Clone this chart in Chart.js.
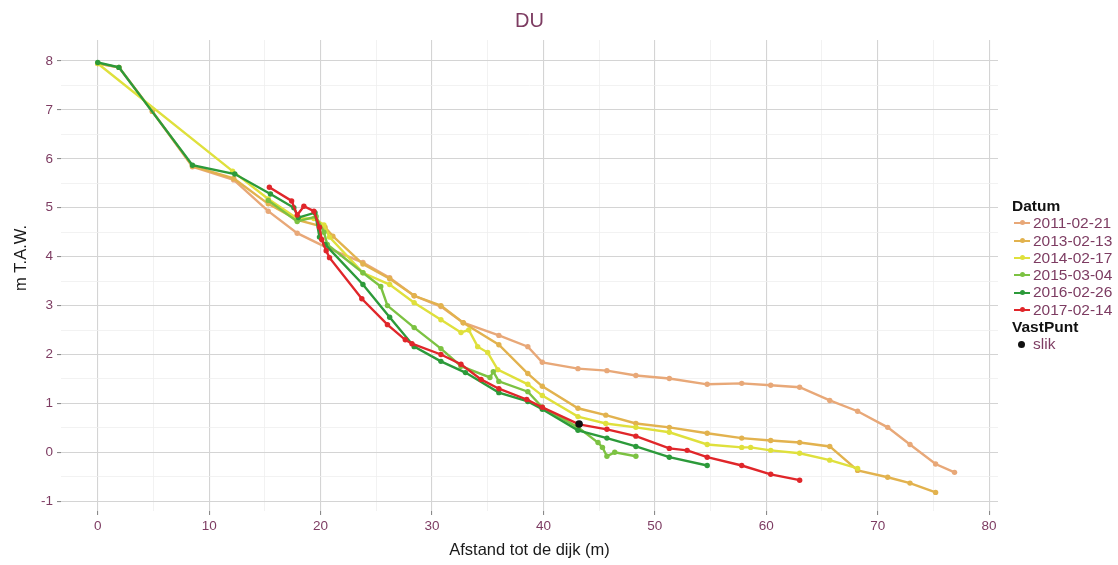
<!DOCTYPE html>
<html>
<head>
<meta charset="utf-8">
<title>DU</title>
<script src="https://cdn.jsdelivr.net/npm/chart.js@4.4.0/dist/chart.umd.min.js"></script>
<style>
  body { margin: 0; background: #fff; font-family: "Liberation Sans", Arial, sans-serif; }
  #wrap { position: relative; width: 1118px; height: 565px; }
  #legend { position: absolute; left: 1012px; top: 197px; font-size: 15.5px; line-height: 17.3px; }
  #legend .head { font-weight: bold; color: #111; }
  #legend .item { display: flex; align-items: center; color: #7d3c62; }
  #legend .key { position: relative; width: 18px; height: 17px; margin-right: 3px; }
  #legend .key i { position: absolute; left: 2px; right: 0; top: 8px; height: 2px; }
  #legend .key b { position: absolute; left: 8px; top: 6px; width: 5px; height: 5px; border-radius: 50%; }
</style>
</head>
<body>
<div id="wrap">
  <canvas id="profileChart" width="1118" height="565"></canvas>
  <div id="legend"></div>
</div>
<script>
const labels = ["2011-02-21", "2013-02-13", "2014-02-17", "2015-03-04", "2016-02-26", "2017-02-14"];
const colors = ["#e8a878", "#e2b24e", "#dfe03c", "#7cc242", "#2c9a3a", "#e0262a"];

// afstand (m) en hoogte (m T.A.W.) per opname
const x2011 = [0, 1.9, 4.9, 8.5, 12.2, 15.3, 17.9, 20.6, 23.8, 26.2, 28.4, 30.8, 32.8, 36.0, 38.6, 39.9, 43.1, 45.7, 48.3, 51.3, 54.7, 57.8, 60.4, 63.0, 65.7, 68.2, 70.9, 72.9, 75.2, 76.9];
const y2011 = [7.95, 7.87, 6.97, 5.84, 5.57, 4.93, 4.48, 4.18, 3.88, 3.57, 3.2, 2.98, 2.65, 2.39, 2.16, 1.84, 1.71, 1.67, 1.57, 1.51, 1.39, 1.41, 1.37, 1.33, 1.06, 0.84, 0.51, 0.16, -0.24, -0.41];

const x2013 = [0, 1.9, 4.9, 8.5, 12.2, 15.3, 17.9, 20.4, 21.1, 23.8, 26.2, 28.4, 30.8, 32.8, 36.0, 38.6, 39.9, 43.1, 45.6, 48.3, 51.3, 54.7, 57.8, 60.4, 63.0, 65.7, 68.2, 70.9, 72.9, 75.2];
const y2013 = [7.95, 7.87, 6.97, 5.85, 5.6, 5.08, 4.75, 4.6, 4.42, 3.85, 3.55, 3.2, 3.0, 2.65, 2.2, 1.61, 1.35, 0.9, 0.76, 0.59, 0.51, 0.39, 0.29, 0.24, 0.2, 0.12, -0.37, -0.51, -0.63, -0.82];

const x2014 = [0, 12.1, 15.3, 17.9, 19.4, 20.3, 20.8, 23.8, 26.2, 28.4, 30.8, 32.6, 33.3, 34.1, 35.0, 35.9, 38.6, 39.9, 43.1, 45.6, 48.3, 51.3, 54.7, 57.8, 58.6, 60.4, 63.0, 65.7, 68.2];
const y2014 = [7.95, 5.75, 5.18, 4.78, 4.78, 4.65, 4.4, 3.67, 3.43, 3.06, 2.71, 2.45, 2.5, 2.16, 2.04, 1.69, 1.39, 1.16, 0.73, 0.59, 0.51, 0.41, 0.16, 0.1, 0.1, 0.04, -0.02, -0.16, -0.33];

const x2015 = [15.3, 17.9, 19.6, 20.3, 20.6, 23.8, 25.4, 26.0, 28.4, 30.8, 32.6, 35.2, 35.5, 36.0, 38.6, 39.9, 43.1, 44.9, 45.3, 45.7, 46.4, 48.3];
const y2015 = [5.15, 4.72, 4.82, 4.5, 4.25, 3.67, 3.39, 3.0, 2.55, 2.12, 1.76, 1.53, 1.65, 1.45, 1.24, 0.92, 0.51, 0.2, 0.1, -0.08, 0.0, -0.08];

const x2016 = [0, 1.9, 8.5, 12.3, 15.5, 17.6, 18.0, 19.5, 19.9, 20.4, 23.8, 26.2, 28.4, 30.8, 33.0, 36.0, 38.6, 39.9, 43.1, 45.7, 48.3, 51.3, 54.7];
const y2016 = [7.97, 7.87, 5.87, 5.69, 5.28, 5.0, 4.8, 4.9, 4.4, 4.25, 3.43, 2.76, 2.16, 1.86, 1.63, 1.22, 1.04, 0.88, 0.45, 0.29, 0.12, -0.10, -0.27];

const x2017 = [15.4, 17.4, 17.9, 18.5, 19.4, 19.9, 20.1, 20.5, 20.8, 23.7, 26.0, 27.6, 28.2, 30.8, 32.6, 34.4, 36.0, 38.5, 39.9, 43.2, 45.7, 48.3, 51.3, 52.9, 54.7, 57.8, 60.4, 63.0];
const y2017 = [5.42, 5.14, 4.85, 5.03, 4.93, 4.6, 4.35, 4.12, 3.98, 3.14, 2.61, 2.3, 2.22, 2.0, 1.8, 1.49, 1.3, 1.08, 0.92, 0.57, 0.47, 0.33, 0.08, 0.04, -0.1, -0.27, -0.45, -0.57];

// vast punt (slik)
const xSlik = [43.2];
const ySlik = [0.58];

const xTicks = [0, 5, 10, 15, 20, 25, 30, 35, 40, 45, 50, 55, 60, 65, 70, 75, 80];
const yTicks = [-1, -0.5, 0, 0.5, 1, 1.5, 2, 2.5, 3, 3.5, 4, 4.5, 5, 5.5, 6, 6.5, 7, 7.5, 8];

const xs = [x2011, x2013, x2014, x2015, x2016, x2017];
const ys = [y2011, y2013, y2014, y2015, y2016, y2017];

const tickColor = "#7d3c62";
const fontFamily = '"Liberation Sans", Arial, sans-serif';
const toPoints = (xv, yv) => xv.map((x, i) => ({ x: x, y: yv[i] }));

const datasets = labels.map((label, i) => ({
  label: label,
  data: toPoints(xs[i], ys[i]),
  showLine: true,
  borderColor: colors[i],
  backgroundColor: colors[i],
  borderWidth: 2.4,
  pointRadius: 2.7,
  pointHoverRadius: 2.7,
  pointBorderWidth: 0,
  order: labels.length - i // latest survey drawn on top
}));

datasets.push({
  label: "slik",
  data: toPoints(xSlik, ySlik),
  showLine: false,
  backgroundColor: "#111",
  borderColor: "#111",
  pointRadius: 3.8,
  pointBorderWidth: 0,
  order: -1
});

// "DU" over the panel and the vertical axis title
const extraText = {
  id: "extraText",
  afterDraw(chart) {
    const { ctx, chartArea } = chart;
    ctx.save();
    ctx.font = "20px " + fontFamily;
    ctx.fillStyle = tickColor;
    ctx.textAlign = "center";
    ctx.textBaseline = "middle";
    ctx.fillText("DU", (chartArea.left + chartArea.right) / 2, 21);

    ctx.font = "16.5px " + fontFamily;
    ctx.fillStyle = "#1a1a1a";
    ctx.translate(21, 258);
    ctx.rotate(-Math.PI / 2);
    ctx.fillText("m T.A.W.", 0, 0);
    ctx.restore();
  }
};

const isMajorX = v => v % 10 === 0;
const isMajorY = v => Number.isInteger(v);

function buildLegend() {
  const box = document.getElementById("legend");
  let html = '<div class="head">Datum</div>';
  labels.forEach((label, i) => {
    html += `<div class="item"><span class="key"><i style="background:${colors[i]}"></i><b style="background:${colors[i]}"></b></span>${label}</div>`;
  });
  html += '<div class="head">VastPunt</div>';
  html += '<div class="item"><span class="key"><b style="background:#111;left:6px;top:5px;width:7px;height:7px"></b></span>slik</div>';
  box.innerHTML = html;
}

document.addEventListener("DOMContentLoaded", () => {
  buildLegend();
  const ctx = document.getElementById("profileChart").getContext("2d");
  new Chart(ctx, {
    type: "scatter",
    data: { datasets: datasets },
    plugins: [extraText],
    options: {
      responsive: false,
      animation: false,
      layout: { padding: { top: 40, right: 120, left: 0, bottom: 0 } },
      plugins: { legend: { display: false }, tooltip: { enabled: false } },
      scales: {
        x: {
          type: "linear",
          min: -3.3,
          max: 80.8,
          afterBuildTicks: s => { s.ticks = xTicks.map(v => ({ value: v })); },
          afterFit: s => { s.height = 54; },
          border: { display: false },
          grid: {
            color: c => (c.tick && isMajorX(c.tick.value) ? "#d4d4d4" : "#efefef"),
            lineWidth: c => (c.tick && isMajorX(c.tick.value) ? 1.1 : 0.8),
            tickLength: 4,
            tickColor: c => (c.tick && isMajorX(c.tick.value) ? "#8a8a8a" : "rgba(0,0,0,0)")
          },
          ticks: {
            autoSkip: false,
            maxRotation: 0,
            padding: 3,
            color: tickColor,
            font: { size: 13.5, family: fontFamily },
            callback: v => (isMajorX(v) ? String(v) : "")
          },
          title: {
            display: true,
            text: "Afstand tot de dijk (m)",
            color: "#1a1a1a",
            font: { size: 16.5, family: fontFamily },
            padding: { top: 0, bottom: 5 }
          }
        },
        y: {
          type: "linear",
          min: -1.2,
          max: 8.43,
          afterBuildTicks: s => { s.ticks = yTicks.map(v => ({ value: v })); },
          afterFit: s => { s.width = 61; },
          border: { display: false },
          grid: {
            color: c => (c.tick && isMajorY(c.tick.value) ? "#d4d4d4" : "#efefef"),
            lineWidth: c => (c.tick && isMajorY(c.tick.value) ? 1.1 : 0.8),
            tickLength: 4,
            tickColor: c => (c.tick && isMajorY(c.tick.value) ? "#8a8a8a" : "rgba(0,0,0,0)")
          },
          ticks: {
            autoSkip: false,
            padding: 4,
            color: tickColor,
            font: { size: 13.5, family: fontFamily },
            callback: v => (isMajorY(v) ? String(v) : "")
          }
        }
      }
    }
  });
});
</script>
</body>
</html>
